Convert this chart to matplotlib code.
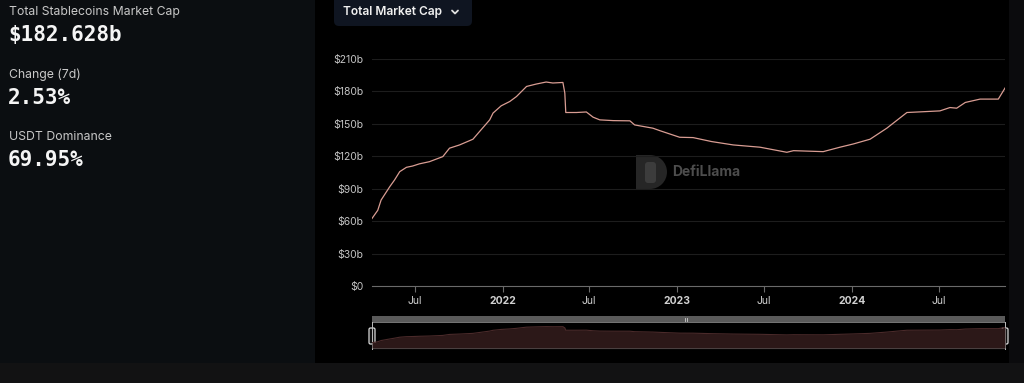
import numpy as np
import pandas as pd
import matplotlib
matplotlib.use("Agg")
import matplotlib.pyplot as plt
import matplotlib.dates as mdates
from matplotlib.patches import Rectangle, FancyBboxPatch, Wedge

plt.rcParams['font.family'] = ['Inter', 'DejaVu Sans']

# stablecoin total market cap, billions USD
dates = ["2021-04-03", "2021-04-15", "2021-04-22", "2021-05-10", "2021-05-20",
         "2021-05-31", "2021-06-14", "2021-06-27", "2021-07-11", "2021-08-01",
         "2021-08-29", "2021-09-12", "2021-10-03", "2021-10-31", "2021-11-14",
         "2021-12-05", "2021-12-12", "2021-12-29", "2022-01-16", "2022-01-30",
         "2022-02-20", "2022-03-12", "2022-04-02", "2022-04-16", "2022-05-07",
         "2022-05-11", "2022-05-13", "2022-06-04", "2022-06-25", "2022-07-09",
         "2022-07-23", "2022-08-20", "2022-09-24", "2022-10-04", "2022-11-11",
         "2022-11-25", "2023-01-06", "2023-02-03", "2023-03-14", "2023-04-28",
         "2023-06-23", "2023-08-18", "2023-09-01", "2023-11-02", "2023-12-07",
         "2024-01-04", "2024-02-08", "2024-03-14", "2024-04-07", "2024-04-25",
         "2024-06-06", "2024-07-03", "2024-07-24", "2024-08-07", "2024-08-25",
         "2024-09-25", "2024-11-02", "2024-11-16"]
mcap = [62.5, 70.0, 79.5, 91.8, 98.0,
        105.8, 109.8, 111.0, 113.0, 115.0,
        119.7, 127.5, 130.5, 135.8, 143.0,
        153.7, 160.0, 166.7, 170.7, 175.3,
        184.6, 186.8, 188.7, 187.8, 188.3,
        178.5, 160.5, 160.5, 161.0, 156.2,
        153.7, 153.0, 152.8, 149.0, 146.0,
        143.8, 137.6, 137.3, 133.6, 130.5,
        128.4, 123.7, 125.2, 124.3, 128.4,
        131.4, 135.8, 146.0, 154.3, 160.5,
        161.4, 162.0, 165.1, 164.5, 169.8,
        172.9, 172.9, 183.1]

yticks = [0, 30, 60, 90, 120, 150, 180, 210]
xtick_dates = ["2021-07-01", "2022-01-01", "2022-07-01", "2023-01-01",
               "2023-07-01", "2024-01-01", "2024-07-01"]
xtick_labels = ["Jul", "2022", "Jul", "2023", "Jul", "2024", "Jul"]

stats = [("Total Stablecoins Market Cap", "$182.628b"),
         ("Change (7d)", "2.53%"),
         ("USDT Dominance", "69.95%")]

x = pd.to_datetime(dates)
W, H = 1024, 383
line_col = '#d99d93'

fig = plt.figure(figsize=(W / 100, H / 100), dpi=100, facecolor='#000000')

# background panels (pixel coords)
bg = fig.add_axes([0, 0, 1, 1])
bg.set_xlim(0, W)
bg.set_ylim(H, 0)
bg.axis('off')
bg.add_patch(Rectangle((0, 0), 315, 363, color='#0b0e11', lw=0))
bg.add_patch(Rectangle((1009, 0), 15, 363, color='#0b0b0d', lw=0))
bg.add_patch(Rectangle((0, 363), W, 20, color='#121213', lw=0))

# dropdown button
bg.add_patch(FancyBboxPatch((334, -8), 138, 34, boxstyle="round,pad=0,rounding_size=5",
                            fc='#0f1521', ec='none'))
bg.text(343, 12.5, "Total Market Cap", color='#f0f0f0', fontsize=8.6,
        fontweight='semibold', va='center', ha='left')
bg.plot([452, 455, 458], [10.5, 13.5, 10.5], color='#e0e0e0', lw=1.3,
        solid_capstyle='round')

# left stats
ty = [12, 75, 137]
for (lab, val), y0 in zip(stats, ty):
    bg.text(9, y0, lab, color='#c8c8c8', fontsize=8.8, va='center', ha='left')
    bg.text(8, y0 + 23, val, color='#f5f5f5', fontsize=15, fontweight='bold',
            family='DejaVu Sans Mono', va='center', ha='left')

# watermark
bg.add_patch(Rectangle((636, 155), 14, 34, color='#262626', lw=0))
bg.add_patch(Wedge((650, 172), 17, -90, 90, color='#262626', lw=0))
bg.add_patch(FancyBboxPatch((645, 162), 11, 21, boxstyle="round,pad=0,rounding_size=3",
                            fc='#3c3c3c', ec='none'))
bg.text(672, 172.5, "DefiLlama", color='#4d4d4d', fontsize=10,
        fontweight='bold', va='center', ha='left')

# main chart
ax = fig.add_axes([372 / W, (H - 286) / H, 633 / W, 227 / H])
ax.set_facecolor('none')
ax.plot(x, mcap, color=line_col, lw=0.9)
ax.set_xlim(x[0], x[-1])
ax.set_ylim(0, 210)
ax.set_yticks(yticks)
ax.set_yticklabels([f"${v}b" if v else "$0" for v in yticks])
ax.set_xticks(pd.to_datetime(xtick_dates))
ax.set_xticklabels(xtick_labels)
for lab, t in zip(ax.get_xticklabels(), xtick_labels):
    if t != "Jul":
        lab.set_fontweight('bold')
ax.grid(axis='y', color='#1d1d1d', lw=0.8)
ax.grid(axis='x', visible=False)
for s in ['top', 'right', 'left']:
    ax.spines[s].set_visible(False)
ax.spines['bottom'].set_color('#6a6a6a')
ax.spines['bottom'].set_linewidth(0.8)
ax.tick_params(axis='y', length=0, pad=6, labelsize=7.5, labelcolor='#c4c4c4')
ax.tick_params(axis='x', length=4, width=0.8, color='#6a6a6a', pad=3,
               labelsize=7.5, labelcolor='#d0d0d0')

# brush / overview
bx = fig.add_axes([372 / W, (H - 348) / H, 633 / W, 26 / H])
bx.set_facecolor('none')
bx.fill_between(x, mcap, 21, color='#2c1818', lw=0)
bx.plot(x, mcap, color='#4a2a2a', lw=0.8)
bx.set_xlim(x[0], x[-1])
bx.set_ylim(21, 225)
bx.axis('off')

bg.add_patch(Rectangle((372, 316), 633, 6, color='#5a5a5a', lw=0))
bg.plot([372, 1005], [322, 322], color='#8a8a8a', lw=0.6)
bg.plot([372, 1005], [348, 348], color='#6a6a6a', lw=0.8)
bg.plot([684.5, 684.5], [318, 320.5], color='#cfcfcf', lw=0.6)
bg.plot([686.5, 686.5], [318, 320.5], color='#cfcfcf', lw=0.6)
for hx in [372, 1005]:
    bg.plot([hx, hx], [322, 349], color='#bdbdbd', lw=0.7)
    bg.add_patch(FancyBboxPatch((hx - 3, 328), 6, 16,
                                boxstyle="round,pad=0,rounding_size=1.5",
                                fc='#111111', ec='#d8d8d8', lw=0.9))

fig.savefig("out.png", dpi=100, facecolor=fig.get_facecolor())
